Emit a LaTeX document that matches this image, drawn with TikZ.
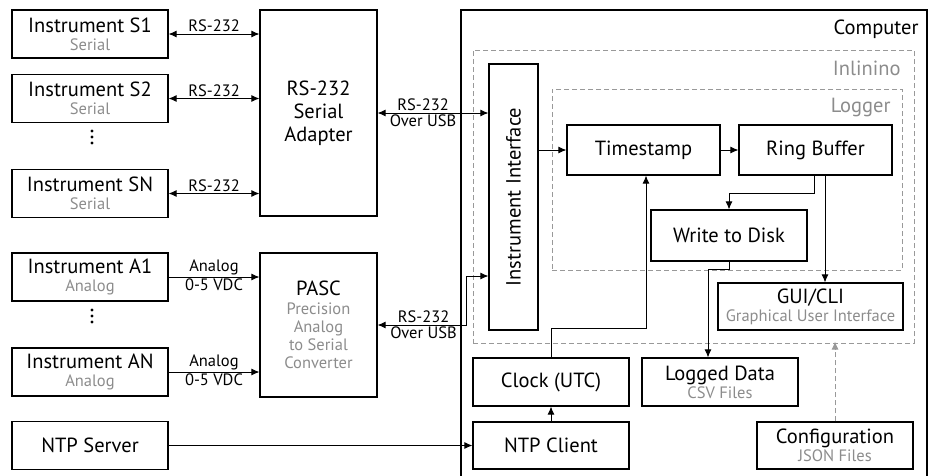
\documentclass[tikz,border=0pt]{standalone}
\usepackage{fontspec}
\usepackage{graphicx}
\setmainfont{PT Sans}
\usetikzlibrary{arrows.meta}
\definecolor{subgray}{gray}{0.55}
\definecolor{dashgray}{gray}{0.6}

\begin{document}
\begin{tikzpicture}[x=1pt,y=-1pt,>={Latex[length=8pt,width=7pt]},line width=0.9pt,
	box/.style={draw,line width=1.2pt,inner sep=0pt,align=center,
		font=\fontsize{20.5}{22}\selectfont},
	group/.style={draw=dashgray,dash pattern=on 5pt off 3pt,line width=1pt,inner sep=0pt},
	grouptxt/.style={anchor=east,font=\fontsize{20.5}{22}\selectfont,inner sep=0pt},
	lbl/.style={font=\fontsize{16.5}{18}\selectfont,inner sep=1.5pt}]
\def\subline#1{{\fontsize{16.5}{18}\selectfont\color{subgray}#1}}
\useasboundingbox (0,0) rectangle (933,475);

% containers
\node[draw,line width=1.2pt,minimum width=466,minimum height=470] (computer) at (694,245) {};
\node[group,minimum width=441,minimum height=293] (inlinino) at (693.5,196.5) {};
\node[group,minimum width=350,minimum height=181] (logger) at (727,179.5) {};
\node[grouptxt] (computertxt) at (919,29) {Computer};
\node[grouptxt,text=subgray] (inlininotxt) at (901,68) {Inlinino};
\node[grouptxt,text=subgray] (loggertxt) at (891,107) {Logger};

% instruments
\node[box,minimum width=156,minimum height=48] (s1) at (90,34) {Instrument S1\\[-4pt]\subline{Serial}};
\node[box,minimum width=156,minimum height=48] (s2) at (90,98.5) {Instrument S2\\[-4pt]\subline{Serial}};
\node[box,minimum width=156,minimum height=48] (sn) at (90,193.5) {Instrument SN\\[-4pt]\subline{Serial}};
\node[box,minimum width=156,minimum height=48] (a1) at (90,277) {Instrument A1\\[-4pt]\subline{Analog}};
\node[box,minimum width=156,minimum height=48] (an) at (90,372) {Instrument AN\\[-4pt]\subline{Analog}};
\node[box,minimum width=156,minimum height=48] (ntpserver) at (90,445.5) {NTP Server};

\foreach \y in {131,137,143}{
	\fill (92,\y) circle[radius=1.6];
}
\foreach \y in {310,316,322}{
	\fill (92,\y) circle[radius=1.6];
}

\node[box,minimum width=117,minimum height=206] (adapter) at (318.5,113) {RS-232\\[1pt]Serial\\[1pt]Adapter};
\node[box,minimum width=117,minimum height=144] (pasc) at (318.5,325)
	{PASC\\[-3pt]\subline{Precision}\\[-4pt]\subline{Analog}\\[-4pt]\subline{to Serial}\\[-4pt]\subline{Converter}};

% computer
\node[box,minimum width=49,minimum height=266] (iface) at (513.5,197) {\rotatebox{90}{Instrument Interface}};
\node[box,minimum width=153,minimum height=50] (timestamp) at (643.5,150) {Timestamp};
\node[box,minimum width=153,minimum height=50] (ringbuffer) at (815.5,150) {Ring Buffer};
\node[box,minimum width=156,minimum height=51] (write) at (729,235.5) {Write to Disk};
\node[box,minimum width=185,minimum height=47] (gui) at (810.5,306.5) {GUI/CLI\\[-4pt]\subline{Graphical User Interface}};
\node[box,minimum width=156,minimum height=48] (clock) at (551,382) {Clock (UTC)};
\node[box,minimum width=156,minimum height=48] (logged) at (720,382) {Logged Data\\[-4pt]\subline{CSV Files}};
\node[box,minimum width=156,minimum height=47] (ntpclient) at (551,445.5) {NTP Client};
\node[box,minimum width=156,minimum height=47] (config) at (835,445.5) {Configuration\\[-4pt]\subline{JSON Files}};

\coordinate (usbknick) at (466,276);

% connections
\draw[<->] (s1.east) -- (s1.east -| adapter.west) node[lbl,midway,above] {RS-232};
\draw[<->] (s2.east) -- (s2.east -| adapter.west) node[lbl,midway,above] {RS-232};
\draw[<->] (sn.east) -- (sn.east -| adapter.west) node[lbl,midway,above] {RS-232};
\draw[->] (a1.east) -- (a1.east -| pasc.west)
	node[lbl,midway,above] {Analog} node[lbl,midway,below] {0-5 VDC};
\draw[->] (an.east) -- (an.east -| pasc.west)
	node[lbl,midway,above] {Analog} node[lbl,midway,below] {0-5 VDC};
\draw[<->] (adapter.east) -- (adapter.east -| iface.west)
	node[lbl,pos=0.41,above] {RS-232} node[lbl,pos=0.41,below] {Over USB};
\draw[<->] (pasc.east) -- (pasc.east -| usbknick)
	node[lbl,pos=0.52,above] {RS-232} node[lbl,pos=0.52,below] {Over USB}
	-- (usbknick) -- (usbknick -| iface.west);
\draw[->] (ntpserver.east) -- (ntpclient.west);

\draw[->] (iface.east |- timestamp.west) -- (timestamp.west);
\draw[->] (timestamp.east) -- (ringbuffer.west);
\draw[->] ([xshift=-1.5pt]ringbuffer.south) -- ++(0,18) -| (write.north);
\draw[->] ([xshift=9.5pt]ringbuffer.south) -- ([xshift=9.5pt]ringbuffer.south |- gui.north);
\draw[->] (write.south) -- ++(0,8) -| ([xshift=-12pt]logged.north);
\draw[->] (clock.north) -- ++(0,-29) -| ([xshift=2.5pt]timestamp.south);
\draw[->] (ntpclient.north) -- (clock.south);
\draw[->,dashgray,dash pattern=on 5pt off 3pt] (config.north) -- ([yshift=2pt]config.north |- inlinino.south);

\end{tikzpicture}
\end{document}
